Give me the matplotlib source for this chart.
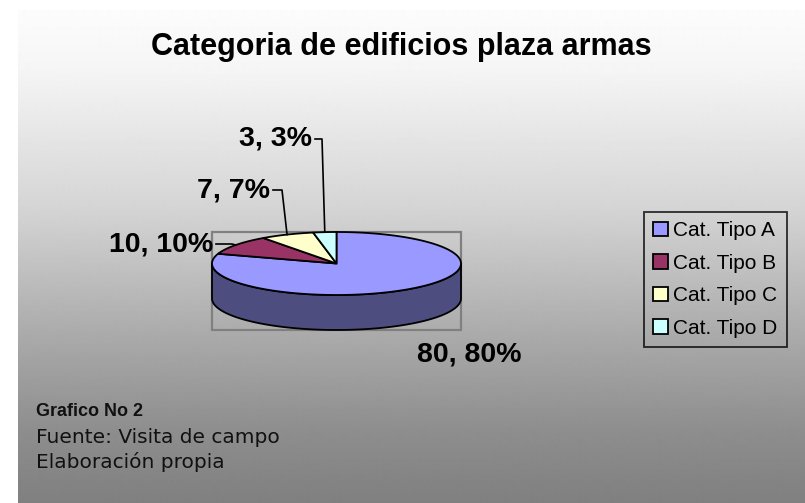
import numpy as np
import matplotlib.pyplot as plt
from matplotlib.patches import Polygon, Rectangle, Patch

categorias = ['Cat. Tipo A', 'Cat. Tipo B', 'Cat. Tipo C', 'Cat. Tipo D']
valores = [80, 10, 7, 3]
colores = ['#9999FF', '#993366', '#FFFFCC', '#CCFFFF']
color_lado = '#4D4D80'

titulo = 'Categoria de edificios plaza armas'
notas = ['Grafico No 2', 'Fuente: Visita de campo', 'Elaboración propia']

W, H = 805, 503
fig = plt.figure(figsize=(W / 100, H / 100), dpi=100)
fig.patch.set_facecolor('white')
ax = fig.add_axes([0, 0, 1, 1])

# fondo en degradado de blanco a gris
ys = np.arange(10, H)
tono = np.interp(ys, [10, 70, 210, 330, 430, 503], [252, 245, 212, 172, 142, 128]) / 255
grad = np.repeat(tono[:, None], 2, axis=1)
ax.imshow(grad, cmap='gray', vmin=0, vmax=1, extent=[18, W, H, 10],
          aspect='auto', zorder=0, interpolation='bilinear')
ax.set_xlim(0, W)
ax.set_ylim(H, 0)
ax.axis('off')

# torta 3D: elipse superior + lateral
cx, cy, rx, ry, prof = 336.5, 263.5, 124.5, 31.5, 35


def punto(t, dy=0.0):
    t = np.radians(t)
    return cx + rx * np.cos(t), cy - ry * np.sin(t) + dy


total = sum(valores)
angulos = 90 - 360 * np.cumsum([0] + valores) / total

ax.add_patch(Rectangle((cx - rx, cy - ry), 2 * rx, 2 * ry + prof, fill=False,
                       edgecolor='#808080', lw=1.6, zorder=1))

for i in range(len(valores)):
    a0, a1 = angulos[i], angulos[i + 1]
    for k in (-1, 0, 1):
        lo = max(a1, -180 + 360 * k)
        hi = min(a0, 360 * k)
        if hi > lo:
            t = np.linspace(hi, lo, 150)
            xa, ya = punto(t)
            xb, yb = punto(t[::-1], prof)
            pts = np.column_stack([np.r_[xa, xb], np.r_[ya, yb]])
            ax.add_patch(Polygon(pts, closed=True, facecolor=color_lado,
                                 edgecolor='black', lw=1.3, zorder=2))

for i in range(len(valores)):
    t = np.linspace(angulos[i], angulos[i + 1], 200)
    xs, ys_ = punto(t)
    pts = np.column_stack([np.r_[cx, xs], np.r_[cy, ys_]])
    ax.add_patch(Polygon(pts, closed=True, facecolor=colores[i],
                         edgecolor='black', lw=1.3, zorder=3))

# etiquetas de datos con líneas guía
fuente_et = dict(fontsize=20.5, fontweight='bold', family='Liberation Sans', color='black')
pos_et = {1: (213, 244, 232), 2: (270, 190, 282), 3: (312, 139, 322)}
for i, v in enumerate(valores):
    texto = f'{v}, {round(100 * v / total)}%'
    if i in pos_et:
        xt, yt, xc = pos_et[i]
        mid = (angulos[i] + angulos[i + 1]) / 2
        ex, ey = punto(mid)
        ax.plot([xt + 3, xc, ex], [yt, yt, ey], color='black', lw=1.2, zorder=4)
        ax.text(xt, yt, texto, ha='right', va='center', zorder=5, **fuente_et)
    else:
        ax.text(469, 355, texto, ha='center', va='center', zorder=5, **fuente_et)

ax.text(401, 47, titulo, ha='center', va='center', fontsize=22,
        fontweight='bold', family='Liberation Sans')

manejadores = [Patch(facecolor=c, edgecolor='black', lw=1.3, label=l)
               for c, l in zip(colores, categorias)]
leg = ax.legend(handles=manejadores, loc='center left',
                bbox_to_anchor=(644 / W, 1 - 279.5 / H), bbox_transform=fig.transFigure,
                prop={'family': 'Liberation Sans', 'size': 15},
                handlelength=0.7, handleheight=0.7, handletextpad=0.25,
                labelspacing=0.65, borderpad=0.45, borderaxespad=0,
                fancybox=False, frameon=True)
leg.get_frame().set_facecolor('none')
leg.get_frame().set_edgecolor('black')
leg.get_frame().set_linewidth(1.3)

ax.text(36, 416, notas[0], ha='left', va='baseline', fontsize=13,
        fontweight='bold', family='Liberation Sans', color='#111111')
ax.text(36, 443, notas[1], ha='left', va='baseline', fontsize=14.5,
        family='DejaVu Sans', color='#111111')
ax.text(36, 468, notas[2], ha='left', va='baseline', fontsize=14.5,
        family='DejaVu Sans', color='#111111')

fig.savefig('out.png', dpi=100)
